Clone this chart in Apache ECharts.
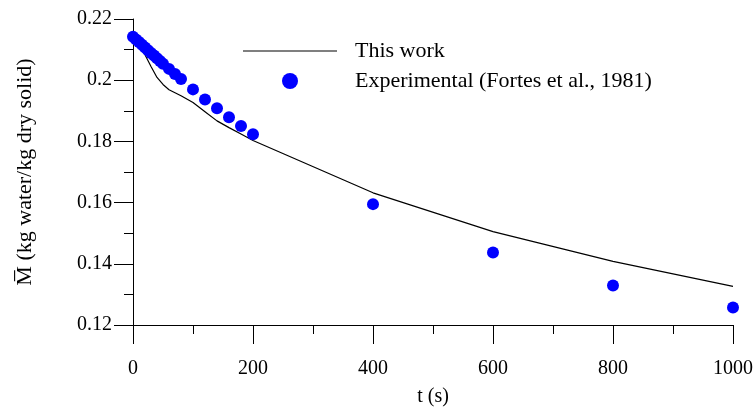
<!DOCTYPE html>
<html>
<head>
<meta charset="utf-8">
<script src="https://cdn.jsdelivr.net/npm/echarts@6/dist/echarts.min.js"></script>
<style>html,body{margin:0;padding:0;background:#fff;}#c{width:756px;height:412px;}</style>
</head>
<body>
<div id="c"></div>
<script>
// Model curve ("This work")
var modelT = [0, 10, 20, 30, 40, 50, 60, 70, 80, 100, 120, 140, 160, 180, 200, 400, 600, 800, 1000];
var modelM = [0.2142, 0.2118, 0.2083, 0.2045, 0.2009, 0.1986, 0.1969, 0.1959, 0.1949, 0.1927, 0.1897, 0.1867, 0.1845, 0.1824, 0.1803, 0.1632, 0.1505, 0.1408, 0.1326];
// Experimental points (Fortes et al., 1981)
var expT = [0, 5, 10, 15, 20, 25, 30, 35, 40, 45, 50, 60, 70, 80, 100, 120, 140, 160, 180, 200, 400, 600, 800, 1000];
var expM = [0.2142, 0.2133, 0.2125, 0.2116, 0.2107, 0.2098, 0.2089, 0.2081, 0.2072, 0.2063, 0.2054, 0.2037, 0.2020, 0.2004, 0.1970, 0.1937, 0.1908, 0.1879, 0.1850, 0.1823, 0.1595, 0.1437, 0.1329, 0.1257];
var xTicks = [0, 200, 400, 600, 800, 1000];
var yTicks = [0.12, 0.14, 0.16, 0.18, 0.2, 0.22];

var F = "'Liberation Serif', 'Times New Roman', serif";
var chart = echarts.init(document.getElementById('c'));
function zip(a, b) { return a.map(function (v, i) { return [v, b[i]]; }); }
chart.setOption({
  animation: false,
  grid: { left: 133, right: 22, top: 19, bottom: 85 },
  legend: [
    { data: [{ name: 'This work', icon: 'rect', itemStyle: { color: '#555' } }], left: 238, top: 35, itemWidth: 94, itemHeight: 1.5,
      textStyle: { fontFamily: F, fontSize: 22, color: '#000', padding: [0, 0, 0, 13] } },
    { data: [{ name: 'Experimental (Fortes et al., 1981)', icon: 'circle' }], left: 277, top: 65, itemWidth: 16, itemHeight: 16,
      textStyle: { fontFamily: F, fontSize: 22, color: '#000', padding: [0, 0, 0, 52] } }
  ],
  xAxis: {
    type: 'value', min: xTicks[0], max: xTicks[xTicks.length - 1], interval: 200,
    name: 't (s)', nameLocation: 'middle', nameGap: 62,
    nameTextStyle: { fontFamily: F, fontSize: 20, color: '#000' },
    axisLine: { lineStyle: { color: '#000', width: 1 } },
    axisTick: { inside: false, length: 19, lineStyle: { color: '#000' } },
    minorTick: { show: true, splitNumber: 2, length: 9, lineStyle: { color: '#000' } },
    axisLabel: { fontFamily: F, fontSize: 20, color: '#000', margin: 34, formatter: function (v) { return String(v); } },
    splitLine: { show: false }
  },
  yAxis: {
    type: 'value', min: yTicks[0], max: yTicks[yTicks.length - 1], interval: 0.02,
    name: 'M\u0305 (kg water/kg dry solid)', nameLocation: 'middle', nameGap: 97,
    nameTextStyle: { fontFamily: F, fontSize: 22, color: '#000' },
    axisLine: { show: true, lineStyle: { color: '#000', width: 1 } },
    axisTick: { show: true, inside: false, length: 19, lineStyle: { color: '#000' } },
    minorTick: { show: true, splitNumber: 2, length: 9, lineStyle: { color: '#000' } },
    axisLabel: { fontFamily: F, fontSize: 20, color: '#000', margin: 21, formatter: function (v) { return String(+v.toFixed(2)); } },
    splitLine: { show: false }
  },
  series: [
    { name: 'This work', type: 'line', data: zip(modelT, modelM), symbol: 'none', showSymbol: false,
      lineStyle: { color: '#000', width: 1.2 }, itemStyle: { color: '#000' }, z: 3 },
    { name: 'Experimental (Fortes et al., 1981)', type: 'scatter', data: zip(expT, expM),
      symbol: 'circle', symbolSize: 12, itemStyle: { color: '#0000ff', opacity: 1 }, z: 4 }
  ]
});
</script>
</body>
</html>
